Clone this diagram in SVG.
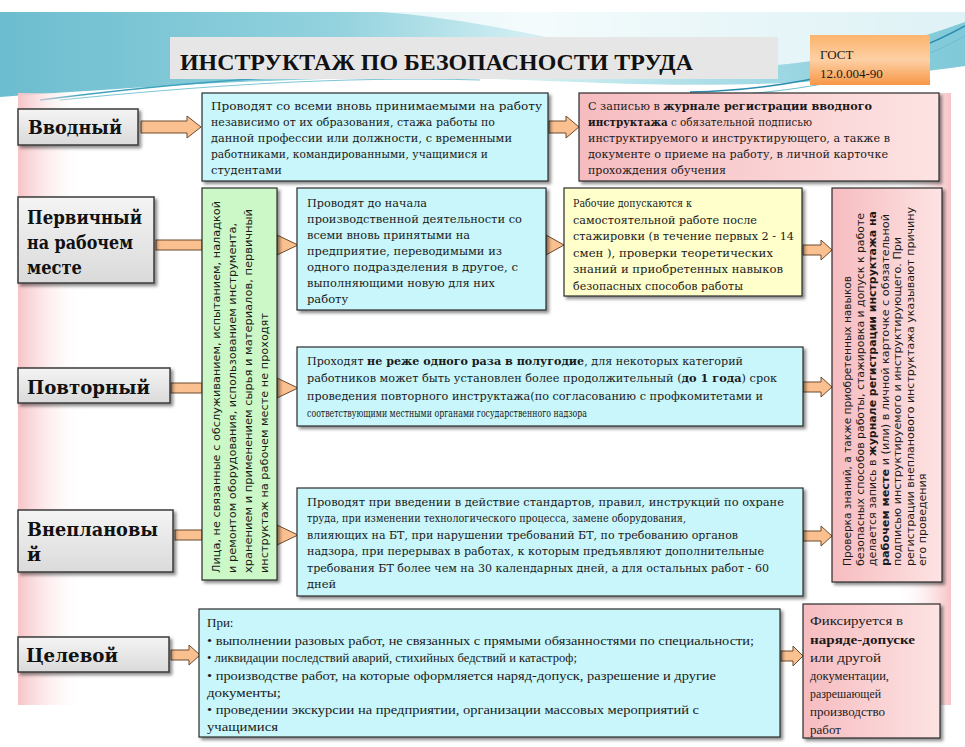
<svg xmlns="http://www.w3.org/2000/svg" width="965" height="747" viewBox="0 0 965 747">
<defs>
<linearGradient id="teal" x1="0" y1="0" x2="1" y2="0">
<stop offset="0" stop-color="#6cbdcf"/><stop offset="0.35" stop-color="#93d2de"/><stop offset="0.55" stop-color="#d2eff3"/><stop offset="0.8" stop-color="#9ed8e3"/><stop offset="1" stop-color="#7fc9d8"/>
</linearGradient>
<linearGradient id="pinkL" x1="0" y1="0" x2="1" y2="0">
<stop offset="0" stop-color="#f7c3c6"/><stop offset="1" stop-color="#ffffff" stop-opacity="0"/>
</linearGradient>
<linearGradient id="pinkR" x1="0" y1="0" x2="1" y2="0">
<stop offset="0" stop-color="#ffffff" stop-opacity="0"/><stop offset="1" stop-color="#f7c3c6"/>
</linearGradient>
<linearGradient id="gray" x1="0" y1="0" x2="0" y2="1">
<stop offset="0" stop-color="#f4f4f4"/><stop offset="1" stop-color="#dadada"/>
</linearGradient>
<linearGradient id="pinkBox" x1="0" y1="0" x2="1" y2="0">
<stop offset="0" stop-color="#f6bcc0"/><stop offset="1" stop-color="#fde3e3"/>
</linearGradient>
<linearGradient id="orange" x1="0" y1="0" x2="0" y2="1">
<stop offset="0" stop-color="#fbb46e"/><stop offset="0.5" stop-color="#fdd0a4"/><stop offset="1" stop-color="#f79646"/>
</linearGradient>
<filter id="sh" x="-10%" y="-10%" width="130%" height="130%">
<feDropShadow dx="2.5" dy="2.5" stdDeviation="1.5" flood-color="#000" flood-opacity="0.45"/>
</filter>
<style>
.lbl{fill:url(#gray);stroke:#3a3a3a;stroke-width:1.5}
.blue{fill:#c8f6fa;stroke:#2b2b2b;stroke-width:1.2}
.pink{fill:url(#pinkBox);stroke:#2b2b2b;stroke-width:1.2}
.yel{fill:#ffffcc;stroke:#2b2b2b;stroke-width:1.2}
.grn{fill:#ccf7c6;stroke:#2b2b2b;stroke-width:1.2}
.arr{fill:#fac090;stroke:#6b4a2e;stroke-width:1}
.lt{font-family:"DejaVu Serif","Liberation Serif",serif;font-weight:bold;font-size:19px;fill:#111}
.t{font-family:"DejaVu Serif","Liberation Serif",serif;font-size:11.5px;fill:#1a1a1a}
.c{font-family:"Liberation Serif","DejaVu Serif",serif;font-size:13px;fill:#1a1a1a}
.s{font-family:"DejaVu Sans","Liberation Sans",sans-serif;font-size:11px;fill:#1a1a1a}
.b{font-weight:bold}
</style>
</defs>

<!-- background -->
<rect x="0" y="0" width="965" height="747" fill="#ffffff"/>
<rect x="0" y="12" width="965" height="88" fill="url(#teal)"/>
<path d="M380,12 C470,18 560,40 640,58 C740,80 860,60 965,22 L965,12 Z" fill="#ffffff" opacity="0.75"/>
<path d="M0,100 L0,97 C160,86 300,76 450,78 C600,80 740,98 965,66 L965,100 Z" fill="#ffffff"/>
<path d="M40,100 C180,82 330,70 470,74" fill="none" stroke="#3fa2bd" stroke-width="1.5"/>
<path d="M60,100 C200,86 340,76 480,80" fill="none" stroke="#7cc6d6" stroke-width="1"/>
<path d="M690,92 C800,90 900,62 965,26" fill="none" stroke="#2c8cb0" stroke-width="1.5"/>
<path d="M700,96 C810,94 905,70 965,36" fill="none" stroke="#6cbfd3" stroke-width="1"/>
<rect x="18" y="93" width="66" height="612" fill="url(#pinkL)"/>
<rect x="895" y="93" width="56" height="612" fill="url(#pinkR)"/>

<!-- title -->
<g id="title">
<rect x="170" y="37" width="608" height="42" fill="#e6e6e6"/>
<text x="180" y="70" font-family="Liberation Serif, DejaVu Serif, serif" font-weight="bold" font-size="24" fill="#111" textLength="513" lengthAdjust="spacingAndGlyphs">ИНСТРУКТАЖ ПО БЕЗОПАСНОСТИ ТРУДА</text>
</g>
<g id="gost">
<rect x="810" y="35" width="120" height="50" fill="url(#orange)"/>
<text class="c" x="820" y="59" font-size="14">ГОСТ</text>
<text class="c" x="820" y="78">12.0.004-90</text>
</g>

<!-- connectors -->
<g id="connectors">
<path class="arr" d="M141,121 L187,121 L187,116 L201,127 L187,138 L187,133 L141,133 Z"/>
<path class="arr" d="M549,121 L566,121 L566,116 L579,127 L566,138 L566,133 L549,133 Z"/>
<rect class="arr" x="156" y="240" width="46" height="10"/>
<polygon class="arr" points="277,235 298,245 277,255"/>
<rect class="arr" x="171" y="383" width="31" height="10"/>
<polygon class="arr" points="277,378 298,388 277,398"/>
<rect class="arr" x="175" y="530" width="27" height="10"/>
<polygon class="arr" points="277,525 298,535 277,545"/>
<polygon class="arr" points="546,235 564,245 546,255"/>
<path class="arr" d="M803,245 L821,245 L821,240 L832,250 L821,260 L821,255 L803,255 Z"/>
<path class="arr" d="M803,382 L821,382 L821,377 L832,387 L821,397 L821,392 L803,392 Z"/>
<path class="arr" d="M803,531 L821,531 L821,526 L832,536 L821,546 L821,541 L803,541 Z"/>
<path class="arr" d="M171,650 L189,650 L189,645 L200,655 L189,665 L189,660 L171,660 Z"/>
<path class="arr" d="M781,651 L793,651 L793,646 L803,656 L793,666 L793,661 L781,661 Z"/>
</g>

<!-- labels -->
<g id="lbl-vvodny">
<rect class="lbl" x="18" y="109" width="120" height="36" filter="url(#sh)"/>
<text class="lt" x="28" y="134" textLength="94" lengthAdjust="spacingAndGlyphs">Вводный</text>
</g>
<g id="lbl-pervichny">
<rect class="lbl" x="18" y="197" width="136" height="86" filter="url(#sh)"/>
<text class="lt" x="27" y="224" textLength="115" lengthAdjust="spacingAndGlyphs">Первичный</text>
<text class="lt" x="27" y="249" textLength="106" lengthAdjust="spacingAndGlyphs">на рабочем</text>
<text class="lt" x="27" y="274" textLength="55" lengthAdjust="spacingAndGlyphs">месте</text>
</g>
<g id="lbl-povtorny">
<rect class="lbl" x="18" y="368" width="152" height="35" filter="url(#sh)"/>
<text class="lt" x="27" y="394" textLength="123" lengthAdjust="spacingAndGlyphs">Повторный</text>
</g>
<g id="lbl-vneplan">
<rect class="lbl" x="18" y="510" width="155" height="62" filter="url(#sh)"/>
<text class="lt" x="27" y="536" textLength="131" lengthAdjust="spacingAndGlyphs">Внеплановы</text>
<text class="lt" x="27" y="561">й</text>
</g>
<g id="lbl-celevoy">
<rect class="lbl" x="18" y="637" width="151" height="35" filter="url(#sh)"/>
<text class="lt" x="26" y="662" textLength="92" lengthAdjust="spacingAndGlyphs">Целевой</text>
</g>

<!-- boxes -->
<g id="box-vvodny">
<rect class="blue" x="202" y="93" width="346" height="88" filter="url(#sh)"/>
<text class="t" x="211" y="110" textLength="331" lengthAdjust="spacingAndGlyphs">Проводят со всеми вновь принимаемыми на работу</text>
<text class="t" x="211" y="126" textLength="284" lengthAdjust="spacingAndGlyphs">независимо от их образования, стажа работы по</text>
<text class="t" x="211" y="142" textLength="301" lengthAdjust="spacingAndGlyphs">данной профессии или должности, с временными</text>
<text class="t" x="211" y="158" textLength="277" lengthAdjust="spacingAndGlyphs">работниками, командированными, учащимися и</text>
<text class="t" x="211" y="174">студентами</text>
</g>
<g id="box-vvodny-reg">
<rect class="pink" x="579" y="93" width="360" height="88" filter="url(#sh)"/>
<text class="t" x="588" y="110" textLength="284" lengthAdjust="spacingAndGlyphs">С записью в <tspan class="b">журнале регистрации вводного</tspan></text>
<text class="t" x="588" y="126" textLength="224" lengthAdjust="spacingAndGlyphs"><tspan class="b">инструктажа</tspan> с обязательной подписью</text>
<text class="t" x="588" y="142" textLength="302" lengthAdjust="spacingAndGlyphs">инструктируемого и инструктирующего, а также в</text>
<text class="t" x="588" y="158" textLength="300" lengthAdjust="spacingAndGlyphs">документе о приеме на работу, в личной карточке</text>
<text class="t" x="588" y="174" textLength="138" lengthAdjust="spacingAndGlyphs">прохождения обучения</text>
</g>
<g id="box-exempt">
<rect class="grn" x="202" y="188" width="75" height="392" filter="url(#sh)"/>
<text class="s" transform="translate(220,573) rotate(-90)" textLength="372" lengthAdjust="spacingAndGlyphs">Лица, не связанные с обслуживанием, испытанием, наладкой</text>
<text class="s" transform="translate(236,573) rotate(-90)" textLength="350" lengthAdjust="spacingAndGlyphs">и ремонтом оборудования, использованием инструмента,</text>
<text class="s" transform="translate(252,573) rotate(-90)" textLength="364" lengthAdjust="spacingAndGlyphs">хранением и применением сырья и материалов, первичный</text>
<text class="s" transform="translate(268,573) rotate(-90)" textLength="260" lengthAdjust="spacingAndGlyphs">инструктаж на рабочем месте не проходят</text>
</g>
<g id="box-pervichny">
<rect class="blue" x="297" y="188" width="249" height="122" filter="url(#sh)"/>
<text class="t" x="307" y="207" textLength="120" lengthAdjust="spacingAndGlyphs">Проводят до начала</text>
<text class="t" x="307" y="223" textLength="215" lengthAdjust="spacingAndGlyphs">производственной деятельности со</text>
<text class="t" x="307" y="239" textLength="163" lengthAdjust="spacingAndGlyphs">всеми вновь принятыми на</text>
<text class="t" x="307" y="255" textLength="195" lengthAdjust="spacingAndGlyphs">предприятие, переводимыми из</text>
<text class="t" x="307" y="271" textLength="211" lengthAdjust="spacingAndGlyphs">одного подразделения в другое, с</text>
<text class="t" x="307" y="287" textLength="188" lengthAdjust="spacingAndGlyphs">выполняющими новую для них</text>
<text class="t" x="307" y="303">работу</text>
</g>
<g id="box-stazh">
<rect class="yel" x="564" y="188" width="238" height="108" filter="url(#sh)"/>
<text class="t" x="573" y="207" textLength="119" lengthAdjust="spacingAndGlyphs">Рабочие допускаются к</text>
<text class="t" x="573" y="224" textLength="184" lengthAdjust="spacingAndGlyphs">самостоятельной работе после</text>
<text class="t" x="573" y="240" textLength="221" lengthAdjust="spacingAndGlyphs">стажировки (в течение первых 2 - 14</text>
<text class="t" x="573" y="257" textLength="200" lengthAdjust="spacingAndGlyphs">смен ), проверки теоретических</text>
<text class="t" x="573" y="273" textLength="210" lengthAdjust="spacingAndGlyphs">знаний и приобретенных навыков</text>
<text class="t" x="573" y="290" textLength="170" lengthAdjust="spacingAndGlyphs">безопасных способов работы</text>
</g>
<g id="box-check">
<rect class="pink" x="832" y="188" width="110" height="394" filter="url(#sh)"/>
<text class="s" transform="translate(851,566) rotate(-90)" textLength="290" lengthAdjust="spacingAndGlyphs">Проверка знаний, а также приобретенных навыков</text>
<text class="s" transform="translate(864,566) rotate(-90)" textLength="353" lengthAdjust="spacingAndGlyphs">безопасных способов работы, стажировка и допуск к работе</text>
<text class="s" transform="translate(876,566) rotate(-90)" textLength="355" lengthAdjust="spacingAndGlyphs">делается запись в <tspan class="b">журнале регистрации инструктажа на</tspan></text>
<text class="s" transform="translate(889,566) rotate(-90)" textLength="352" lengthAdjust="spacingAndGlyphs"><tspan class="b">рабочем месте</tspan> и (или) в личной карточке с обязательной</text>
<text class="s" transform="translate(901,566) rotate(-90)" textLength="329" lengthAdjust="spacingAndGlyphs">подписью инструктируемого и инструктирующего. При</text>
<text class="s" transform="translate(914,566) rotate(-90)" textLength="359" lengthAdjust="spacingAndGlyphs">регистрации внепланового инструктажа указывают причину</text>
<text class="s" transform="translate(926,566) rotate(-90)">его проведения</text>
</g>
<g id="box-povtorny">
<rect class="blue" x="297" y="347" width="506" height="79" filter="url(#sh)"/>
<text class="t" x="307" y="365" textLength="436" lengthAdjust="spacingAndGlyphs">Проходят <tspan class="b">не реже одного раза в полугодие</tspan>, для некоторых категорий</text>
<text class="t" x="307" y="382" textLength="470" lengthAdjust="spacingAndGlyphs">работников может быть установлен более продолжительный (<tspan class="b">до 1 года</tspan>) срок</text>
<text class="t" x="307" y="400" textLength="456" lengthAdjust="spacingAndGlyphs">проведения повторного инструктажа(по согласованию с профкомитетами и</text>
<text class="t" x="307" y="417" textLength="280" lengthAdjust="spacingAndGlyphs">соответствующими местными органами государственного надзора</text>
</g>
<g id="box-vneplan">
<rect class="blue" x="297" y="488" width="506" height="108" filter="url(#sh)"/>
<text class="t" x="307" y="506" textLength="477" lengthAdjust="spacingAndGlyphs">Проводят при введении в действие стандартов, правил, инструкций по охране</text>
<text class="t" x="307" y="522" textLength="379" lengthAdjust="spacingAndGlyphs">труда, при изменении технологического процесса, замене оборудования,</text>
<text class="t" x="307" y="539" textLength="431" lengthAdjust="spacingAndGlyphs">влияющих на БТ, при нарушении требований БТ, по требованию органов</text>
<text class="t" x="307" y="555" textLength="457" lengthAdjust="spacingAndGlyphs">надзора, при перерывах в работах, к которым предъявляют дополнительные</text>
<text class="t" x="307" y="572" textLength="462" lengthAdjust="spacingAndGlyphs">требования БТ более чем на 30 календарных дней, а для остальных работ - 60</text>
<text class="t" x="307" y="588">дней</text>
</g>
<g id="box-celevoy">
<rect class="blue" x="199" y="609" width="581" height="128" filter="url(#sh)"/>
<text class="c" x="207" y="627">При:</text>
<text class="c" x="207" y="645" textLength="547" lengthAdjust="spacingAndGlyphs">• выполнении разовых работ, не связанных с прямыми обязанностями по специальности;</text>
<text class="c" x="207" y="662" textLength="370" lengthAdjust="spacingAndGlyphs">• ликвидации последствий аварий, стихийных бедствий и катастроф;</text>
<text class="c" x="207" y="680" textLength="509" lengthAdjust="spacingAndGlyphs">• производстве работ, на которые оформляется наряд-допуск, разрешение и другие</text>
<text class="c" x="207" y="697" textLength="74" lengthAdjust="spacingAndGlyphs">документы;</text>
<text class="c" x="207" y="714" textLength="492" lengthAdjust="spacingAndGlyphs">• проведении экскурсии на предприятии, организации массовых мероприятий с</text>
<text class="c" x="207" y="731" textLength="71" lengthAdjust="spacingAndGlyphs">учащимися</text>
</g>
<g id="box-naryad">
<rect class="pink" x="803" y="604" width="137" height="134" filter="url(#sh)"/>
<text class="c" x="810" y="625" textLength="93" lengthAdjust="spacingAndGlyphs">Фиксируется  в</text>
<text class="c b" x="810" y="644" textLength="105" lengthAdjust="spacingAndGlyphs">наряде-допуске</text>
<text class="c" x="810" y="662" textLength="71" lengthAdjust="spacingAndGlyphs">или другой</text>
<text class="c" x="810" y="680" textLength="79" lengthAdjust="spacingAndGlyphs">документации,</text>
<text class="c" x="810" y="698" textLength="71" lengthAdjust="spacingAndGlyphs">разрешающей</text>
<text class="c" x="810" y="716" textLength="75" lengthAdjust="spacingAndGlyphs">производство</text>
<text class="c" x="810" y="734">работ</text>
</g>
</svg>
